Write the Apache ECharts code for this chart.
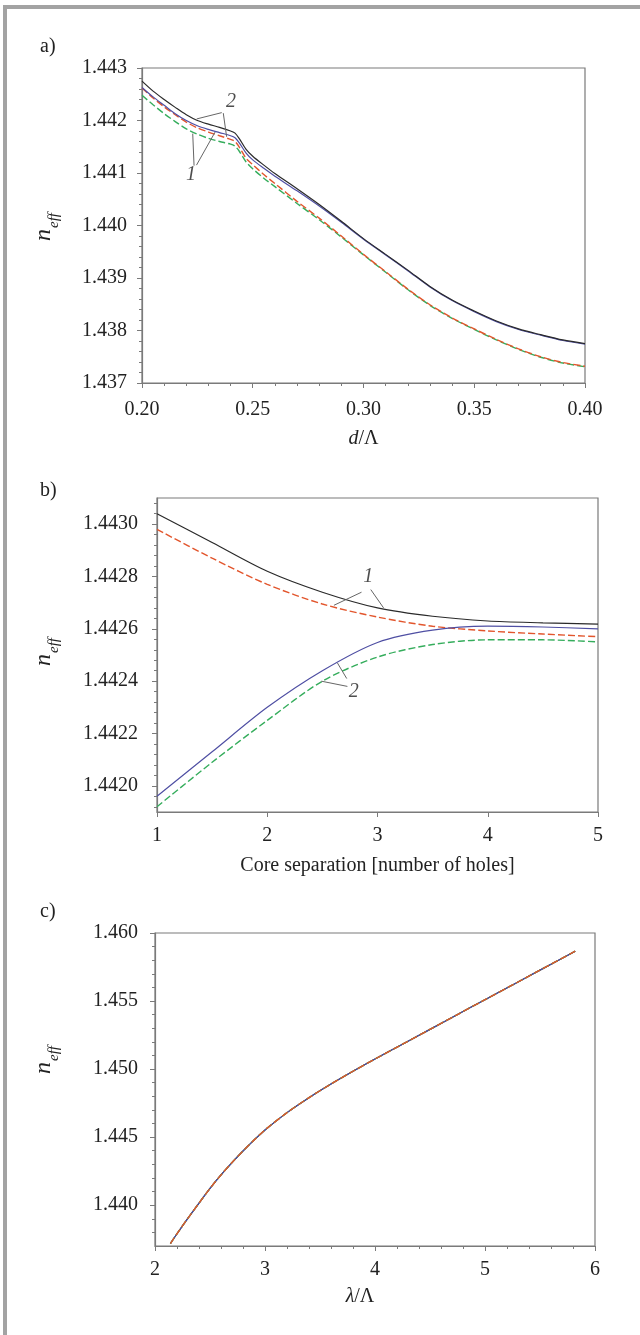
<!DOCTYPE html>
<html>
<head>
<meta charset="UTF-8">
<title>neff</title>
<script src="https://cdn.jsdelivr.net/npm/echarts@6.0.0/dist/echarts.min.js"></script>
<style>
  html, body { margin: 0; padding: 0; background: #fff; }
  #main { width: 640px; height: 1335px; }
</style>
</head>
<body>
<div id="main"></div>
<script>
// ---- panel a) n_eff vs d/Lambda ----
var aX     = [0.20, 0.205, 0.21, 0.215, 0.22, 0.225, 0.23, 0.235, 0.24, 0.242, 0.244, 0.247, 0.25, 0.255, 0.26, 0.27, 0.28, 0.29, 0.30, 0.31, 0.32, 0.33, 0.34, 0.35, 0.36, 0.37, 0.38, 0.39, 0.40];
var aBlack = [1.44275, 1.44256, 1.44240, 1.44225, 1.44211, 1.44200, 1.44193, 1.44187, 1.44180, 1.44176, 1.44165, 1.44145, 1.44132, 1.44115, 1.44099, 1.44070, 1.44040, 1.44008, 1.43975, 1.43945, 1.43915, 1.43884, 1.43858, 1.43837, 1.43818, 1.43803, 1.43792, 1.43782, 1.43775];
var aBlue  = [1.44263, 1.44245, 1.44229, 1.44213, 1.44200, 1.44190, 1.44183, 1.44177, 1.44171, 1.44167, 1.44157, 1.44138, 1.44125, 1.44109, 1.44094, 1.44066, 1.44037, 1.44006, 1.43974, 1.43944, 1.43914, 1.43883, 1.43857, 1.43836, 1.43817, 1.43802, 1.43791, 1.43781, 1.43774];
var aRed   = [1.44262, 1.44243, 1.44226, 1.44211, 1.44197, 1.44186, 1.44178, 1.44171, 1.44164, 1.44160, 1.44149, 1.44128, 1.44116, 1.44097, 1.44080, 1.44046, 1.44014, 1.43980, 1.43945, 1.43912, 1.43879, 1.43849, 1.43824, 1.43803, 1.43783, 1.43765, 1.43750, 1.43739, 1.43732];
var aGreen = [1.44248, 1.44230, 1.44213, 1.44198, 1.44184, 1.44174, 1.44166, 1.44160, 1.44155, 1.44151, 1.44141, 1.44121, 1.44108, 1.44090, 1.44074, 1.44042, 1.44011, 1.43978, 1.43944, 1.43911, 1.43878, 1.43848, 1.43823, 1.43802, 1.43782, 1.43764, 1.43749, 1.43738, 1.43731];
var aNotes = [[0.2402, 1.44236, '2'], [0.2221, 1.44097, '1']];
var aLeaders = [
  [[0.2360, 1.44215], [0.2247, 1.44203]],
  [[0.2367, 1.44214], [0.2382, 1.44169]],
  [[0.2235, 1.44114], [0.2229, 1.44175]],
  [[0.2246, 1.44115], [0.2330, 1.44178]]
];

// ---- panel b) n_eff vs core separation ----
var bX     = [1, 1.5, 2, 2.5, 3, 3.5, 4, 4.5, 5];
var bBlack = [1.44304, 1.44293, 1.44282, 1.44274, 1.44268, 1.442648, 1.44263, 1.442623, 1.442618];
var bRed   = [1.44298, 1.44287, 1.44277, 1.442695, 1.442645, 1.44261, 1.442592, 1.44258, 1.44257];
var bBlue  = [1.44196, 1.44213, 1.44230, 1.44244, 1.442548, 1.442595, 1.44261, 1.442607, 1.4426];
var bGreen = [1.44192, 1.44209, 1.44225, 1.44240, 1.442492, 1.44254, 1.442558, 1.442558, 1.44255];
var bNotes = [[2.916, 1.44280, '1'], [2.785, 1.44236, '2']];
var bLeaders = [
  [[2.855, 1.44274], [2.605, 1.44269]],
  [[2.939, 1.44275], [3.055, 1.44268]],
  [[2.727, 1.44238], [2.49, 1.44240]],
  [[2.721, 1.44241], [2.636, 1.44247]]
];
var bMajorTicks = [1.4420, 1.4422, 1.4424, 1.4426, 1.4428, 1.4430];
var bMinorTicks = [];
for (var k = -2; k <= 27; k++) { if (k % 5 !== 0) bMinorTicks.push(1.4420 + k * 0.00004); }

// ---- panel c) n_eff vs lambda/Lambda ----
var cX = [2.14, 2.2, 2.3, 2.4, 2.5, 2.6, 2.7, 2.8, 2.9, 3.0, 3.2, 3.4, 3.6, 3.8, 4.0, 4.25, 4.5, 4.75, 5.0, 5.25, 5.5, 5.82];
var cY = [1.43718, 1.43790, 1.43905, 1.44015, 1.44123, 1.44222, 1.44313, 1.44398, 1.44478, 1.44553, 1.44680, 1.44790, 1.44890, 1.44984, 1.45074, 1.45183, 1.45292, 1.45401, 1.45510, 1.45618, 1.45727, 1.45866];
var cMajorTicks = [1.440, 1.445, 1.450, 1.455, 1.460];
var cMinorTicks = [];
for (var j = -2; j <= 19; j++) { if (j % 5 !== 0) cMinorTicks.push(1.440 + j * 0.001); }

var FONT = 'Liberation Serif';
var TXT = '#222';
var AXC = '#7a7a7a';
var C_BLACK = '#2a2a2a', C_BLUE = '#4f4fa3', C_RED = '#e2552c', C_GREEN = '#35ad5c';

function pairs(xs, ys) { return xs.map(function (x, i) { return [x, ys[i]]; }); }

function curve(idx, xs, ys, color, dashed) {
  return {
    type: 'line', xAxisIndex: idx, yAxisIndex: idx, data: pairs(xs, ys),
    smooth: 0.3, symbol: 'none',
    lineStyle: { color: color, width: dashed ? 1.4 : 1.2, type: dashed ? [7, 3] : 'solid' }
  };
}

function notes(idx, pts, leaders) {
  return {
    type: 'scatter', xAxisIndex: idx, yAxisIndex: idx, symbolSize: 0, data: pts,
    label: { show: true, position: 'inside', formatter: function (p) { return p.data[2]; },
             fontFamily: FONT, fontStyle: 'italic', fontSize: 20, color: TXT },
    markLine: {
      silent: true, symbol: 'none', label: { show: false },
      lineStyle: { color: '#666', width: 1, type: 'solid' },
      data: leaders.map(function (l) { return [{ coord: l[0] }, { coord: l[1] }]; })
    }
  };
}

function xAx(grid, min, max, interval, minorN, fmt, name, gap, margin, namePad) {
  return {
    type: 'value', gridIndex: grid, min: min, max: max, interval: interval,
    axisLine: { lineStyle: { color: AXC, width: 1.2 } },
    axisTick: { show: true, length: 5, lineStyle: { color: AXC } },
    minorTick: { show: minorN > 0, splitNumber: minorN || 5, length: 3, lineStyle: { color: AXC } },
    splitLine: { show: false },
    axisLabel: { margin: margin, fontFamily: FONT, fontSize: 20, color: TXT, formatter: fmt },
    name: name, nameLocation: 'middle', nameGap: gap,
    nameTextStyle: { fontFamily: FONT, fontSize: 20, color: TXT, padding: namePad || 0,
                     rich: { i: { fontFamily: FONT, fontSize: 20, fontStyle: 'italic', color: TXT } } }
  };
}

function yAx(grid, min, max, opts) {
  var ax = {
    type: 'value', gridIndex: grid, min: min, max: max, position: 'left',
    axisLine: { show: true, lineStyle: { color: AXC, width: 1.2 } },
    axisTick: { show: true, length: 5, lineStyle: { color: AXC } },
    splitLine: { show: false },
    axisLabel: { margin: opts.margin, fontFamily: FONT, fontSize: 20, color: TXT, formatter: opts.fmt }
  };
  if (opts.interval) {
    ax.interval = opts.interval;
    ax.minorTick = { show: true, splitNumber: 5, length: 3, lineStyle: { color: AXC } };
  }
  if (opts.ticks) {
    ax.axisTick.customValues = opts.ticks;
    ax.axisLabel.customValues = opts.ticks;
  }
  return ax;
}

function minorAx(grid, min, max, ticks) {
  return {
    type: 'value', gridIndex: grid, min: min, max: max, position: 'left', offset: 0,
    axisLine: { show: false },
    axisTick: { show: true, length: 3, customValues: ticks, lineStyle: { color: AXC } },
    axisLabel: { show: false }, splitLine: { show: false }
  };
}

function neffTitle(cx, cy) {
  return {
    type: 'group', x: cx, y: cy, rotation: Math.PI / 2,
    children: [
      { type: 'text', x: -13, y: 0, style: { text: 'n', fontFamily: FONT, fontStyle: 'italic', fontSize: 24, fill: TXT, align: 'left', verticalAlign: 'middle' } },
      { type: 'text', x: 0, y: 10, style: { text: 'eff', fontFamily: FONT, fontStyle: 'italic', fontSize: 15, fill: TXT, align: 'left', verticalAlign: 'middle' } }
    ]
  };
}

function panelLabel(txt, y) {
  return { type: 'text', x: 40, y: y, style: { text: txt, fontFamily: FONT, fontSize: 20, fill: TXT, align: 'left', verticalAlign: 'middle' } };
}

var gridStyle = { show: true, borderColor: AXC, borderWidth: 1.2, backgroundColor: '#fff', containLabel: false };

var option = {
  animation: false,
  backgroundColor: '#fff',
  grid: [
    Object.assign({ left: 142, top: 68, width: 443, height: 315 }, gridStyle),
    Object.assign({ left: 157, top: 498, width: 441, height: 314 }, gridStyle),
    Object.assign({ left: 155, top: 933, width: 440, height: 313 }, gridStyle)
  ],
  xAxis: [
    xAx(0, 0.2, 0.4, 0.05, 5, function (v) { return v.toFixed(2); }, '{i|d}/Λ', 46, 17),
    xAx(1, 1, 5, 1, 0, function (v) { return String(v); }, 'Core separation [number of holes]', 44, 14),
    xAx(2, 2, 6, 1, 5, function (v) { return String(v); }, '{i|λ}/Λ', 41, 14, [0, 30, 0, 0])
  ],
  yAxis: [
    yAx(0, 1.437, 1.443, { interval: 0.001, margin: 15, fmt: function (v) { return v.toFixed(3); } }),
    yAx(1, 1.4419, 1.4431, { ticks: bMajorTicks, margin: 19, fmt: function (v) { return v.toFixed(4); } }),
    yAx(2, 1.437, 1.460, { ticks: cMajorTicks, margin: 17, fmt: function (v) { return v.toFixed(3); } }),
    minorAx(1, 1.4419, 1.4431, bMinorTicks),
    minorAx(2, 1.437, 1.460, cMinorTicks)
  ],
  series: [
    curve(0, aX, aGreen, C_GREEN, true),
    curve(0, aX, aRed, C_RED, true),
    curve(0, aX, aBlue, C_BLUE, false),
    curve(0, aX, aBlack, C_BLACK, false),
    notes(0, aNotes, aLeaders),

    curve(1, bX, bGreen, C_GREEN, true),
    curve(1, bX, bRed, C_RED, true),
    curve(1, bX, bBlue, C_BLUE, false),
    curve(1, bX, bBlack, C_BLACK, false),
    notes(1, bNotes, bLeaders),

    curve(2, cX, cY, C_BLACK, false),
    curve(2, cX, cY, C_BLUE, false),
    curve(2, cX, cY, C_GREEN, true),
    curve(2, cX, cY, C_RED, true)
  ],
  graphic: [
    { type: 'rect', shape: { x: 3, y: 5, width: 4, height: 1330 }, style: { fill: '#a3a3a3' } },
    { type: 'rect', shape: { x: 3, y: 5, width: 637, height: 4 }, style: { fill: '#a3a3a3' } },
    panelLabel('a)', 47),
    panelLabel('b)', 491),
    panelLabel('c)', 912),
    neffTitle(44, 228),
    neffTitle(44, 653),
    neffTitle(44, 1061)
  ]
};

var myChart = echarts.init(document.getElementById('main'));
myChart.setOption(option);
</script>
</body>
</html>
